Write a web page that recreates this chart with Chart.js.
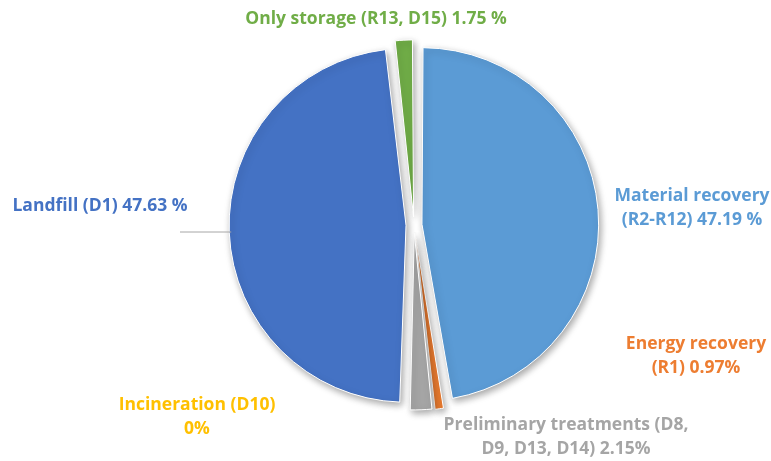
<!DOCTYPE html>
<html>
<head>
<meta charset="utf-8">
<script src="https://cdn.jsdelivr.net/npm/chart.js@4"></script>
<style>
    html, body { margin: 0; padding: 0; background: #fff; }
    #wrap { position: relative; width: 771px; height: 461px; }
</style>
</head>
<body>
<div id="wrap"><canvas id="chart-waste"></canvas></div>
<script>
const categories = [
    "Material recovery (R2-R12)",
    "Energy recovery (R1)",
    "Preliminary treatments (D8, D9, D13, D14)",
    "Incineration (D10)",
    "Landfill (D1)",
    "Only storage (R13, D15)"
];
const shares = [47.19, 0.97, 2.15, 0, 47.63, 1.75];
const labelLines = [
    ["Material recovery", "(R2-R12) 47.19 %"],
    ["Energy recovery", "(R1) 0.97%"],
    ["Preliminary treatments (D8,", "D9, D13, D14) 2.15%"],
    ["Incineration (D10)", "0%"],
    ["Landfill (D1) 47.63 %"],
    ["Only storage (R13, D15) 1.75 %"]
];
const sliceColors = ['#5B9BD5', '#ED7D31', '#A5A5A5', '#FFC000', '#4472C4', '#70AD47'];

// where each label block sits, relative to the pie centre
const labelOffsets = [
    [278, -17], [282, 131], [152, 212], [-217, 192], [-314, -19], [-38, -206]
];
const leaderFor = 4; // only landfill gets a leader line

const ctx = document.getElementById("chart-waste").getContext('2d');

const shadowPlugin = {
    id: 'shadow',
    beforeDatasetsDraw(chart) {
        const c = chart.ctx;
        c.save();
        c.shadowColor = 'rgba(0,0,0,0.35)';
        c.shadowBlur = 7;
        c.shadowOffsetX = 2;
        c.shadowOffsetY = 3;
    },
    afterDatasetsDraw(chart) {
        chart.ctx.restore();
    }
};

const labelPlugin = {
    id: 'outsideLabels',
    afterDraw(chart) {
        const c = chart.ctx;
        const arcs = chart.getDatasetMeta(0).data;
        const cx = arcs[0].x;
        const cy = arcs[0].y;
        const lineH = 24;

        c.save();
        c.font = 'bold 17.5px "Open Sans"';
        c.textAlign = 'center';
        c.textBaseline = 'middle';

        labelLines.forEach(function (lines, i) {
            const x = cx + labelOffsets[i][0];
            const y0 = cy + labelOffsets[i][1] - (lines.length - 1) * lineH / 2;
            c.fillStyle = sliceColors[i];
            lines.forEach(function (txt, j) {
                c.fillText(txt, x, y0 + j * lineH);
            });
        });

        // leader line from landfill label to its slice
        const arc = arcs[leaderFor];
        const off = chart.data.datasets[0].offset / 4; // chart.js draws offset/4
        const mid = (arc.startAngle + arc.endAngle) / 2;
        const fix = 1 - Math.sin(Math.min(Math.PI, arc.circumference));
        const rr = arc.outerRadius + off * fix;
        const ly = cy + 7;
        const dy = ly - cy - Math.sin(mid) * off;
        const ex = cx + Math.cos(mid) * off - Math.sqrt(rr * rr - dy * dy);
        c.strokeStyle = '#A6A6A6';
        c.lineWidth = 1;
        c.beginPath();
        c.moveTo(cx - 234, ly);
        c.lineTo(ex + 2, ly);
        c.stroke();
        c.restore();
    }
};

new Chart(ctx, {
    type: 'pie',
    data: {
        labels: categories,
        datasets: [{
            data: shares,
            backgroundColor: sliceColors,
            borderColor: '#ffffff',
            borderWidth: 1,
            offset: 32
        }]
    },
    options: {
        responsive: true,
        maintainAspectRatio: false,
        animation: false,
        radius: 170,
        layout: { padding: { left: 57, right: 0, top: 0, bottom: 11 } },
        plugins: {
            legend: { display: false },
            tooltip: { enabled: false }
        }
    },
    plugins: [shadowPlugin, labelPlugin]
});
</script>
</body>
</html>
